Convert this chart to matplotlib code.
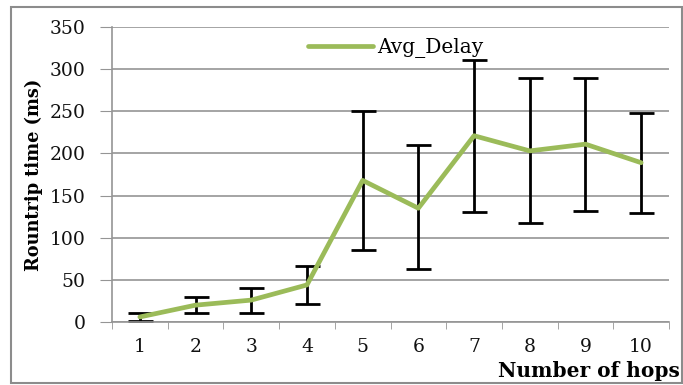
import matplotlib
matplotlib.use("Agg")
import matplotlib.pyplot as plt
from matplotlib.patches import Rectangle

# data
hops      = [1, 2, 3, 4, 5, 6, 7, 8, 9, 10]
avg_delay = [6, 20, 26, 44, 168, 135, 221, 203, 211, 189]
err_top   = [11, 30, 40, 66, 250, 210, 311, 289, 289, 248]
err_bot   = [1, 11, 11, 21, 85, 63, 130, 117, 132, 129]
y_ticks   = [0, 50, 100, 150, 200, 250, 300, 350]

GREEN = "#9BBB59"
GRID = "#959595"
FONT = "DejaVu Serif"

lower = [m - b for m, b in zip(avg_delay, err_bot)]
upper = [t - m for m, t in zip(avg_delay, err_top)]

fig = plt.figure(figsize=(6.83, 3.85), dpi=100)
ax = fig.add_axes([0.164, 0.1636, 0.8155, 0.7663])

# frame round the whole chart
fig.patches.append(Rectangle((0.016, 0.005), 0.983, 0.977, transform=fig.transFigure,
                             fill=False, edgecolor="#8c8c8c", linewidth=1.5))

ax.errorbar(hops, avg_delay, yerr=[lower, upper], fmt="none", ecolor="black",
            elinewidth=2, capsize=9, capthick=2, zorder=2)
ax.plot(hops, avg_delay, color=GREEN, linewidth=3.4, solid_capstyle="round",
        label="Avg_Delay", zorder=3)

ax.set_xlim(0.5, 10.5)
ax.set_ylim(0, 350)
ax.set_yticks(y_ticks)
ax.set_xticks(hops)
ax.set_xticks([h - 0.5 for h in hops] + [10.5], minor=True)
ax.tick_params(axis="x", which="major", length=0, pad=11.5)
ax.tick_params(axis="x", which="minor", length=5, color=GRID, direction="out")
ax.tick_params(axis="y", length=8.5, color=GRID, direction="out", pad=10.5)
for lab in ax.get_xticklabels() + ax.get_yticklabels():
    lab.set_fontfamily(FONT)
    lab.set_fontsize(13.5)
    lab.set_color("#111111")

ax.yaxis.grid(True, color=GRID, linewidth=1.2)
ax.set_axisbelow(True)
for side in ["top", "right"]:
    ax.spines[side].set_visible(False)
ax.spines["left"].set_color(GRID)
ax.spines["bottom"].set_color(GRID)
ax.spines["left"].set_linewidth(1.2)
ax.spines["bottom"].set_linewidth(1.2)

ax.set_ylabel("Rountrip time (ms)", fontfamily=FONT, fontweight="bold",
              fontsize=12.8, labelpad=5)
fig.text(0.996, 0.022, "Number of hops", ha="right", va="baseline",
         fontfamily=FONT, fontweight="bold", fontsize=14.5)

leg = ax.legend(loc="center left", bbox_to_anchor=(0.352, 0.929), frameon=False,
                borderpad=0, borderaxespad=0, handlelength=3.2, handletextpad=0.25,
                prop={"family": FONT, "size": 14.5})

fig.savefig("out.png", dpi=100)
